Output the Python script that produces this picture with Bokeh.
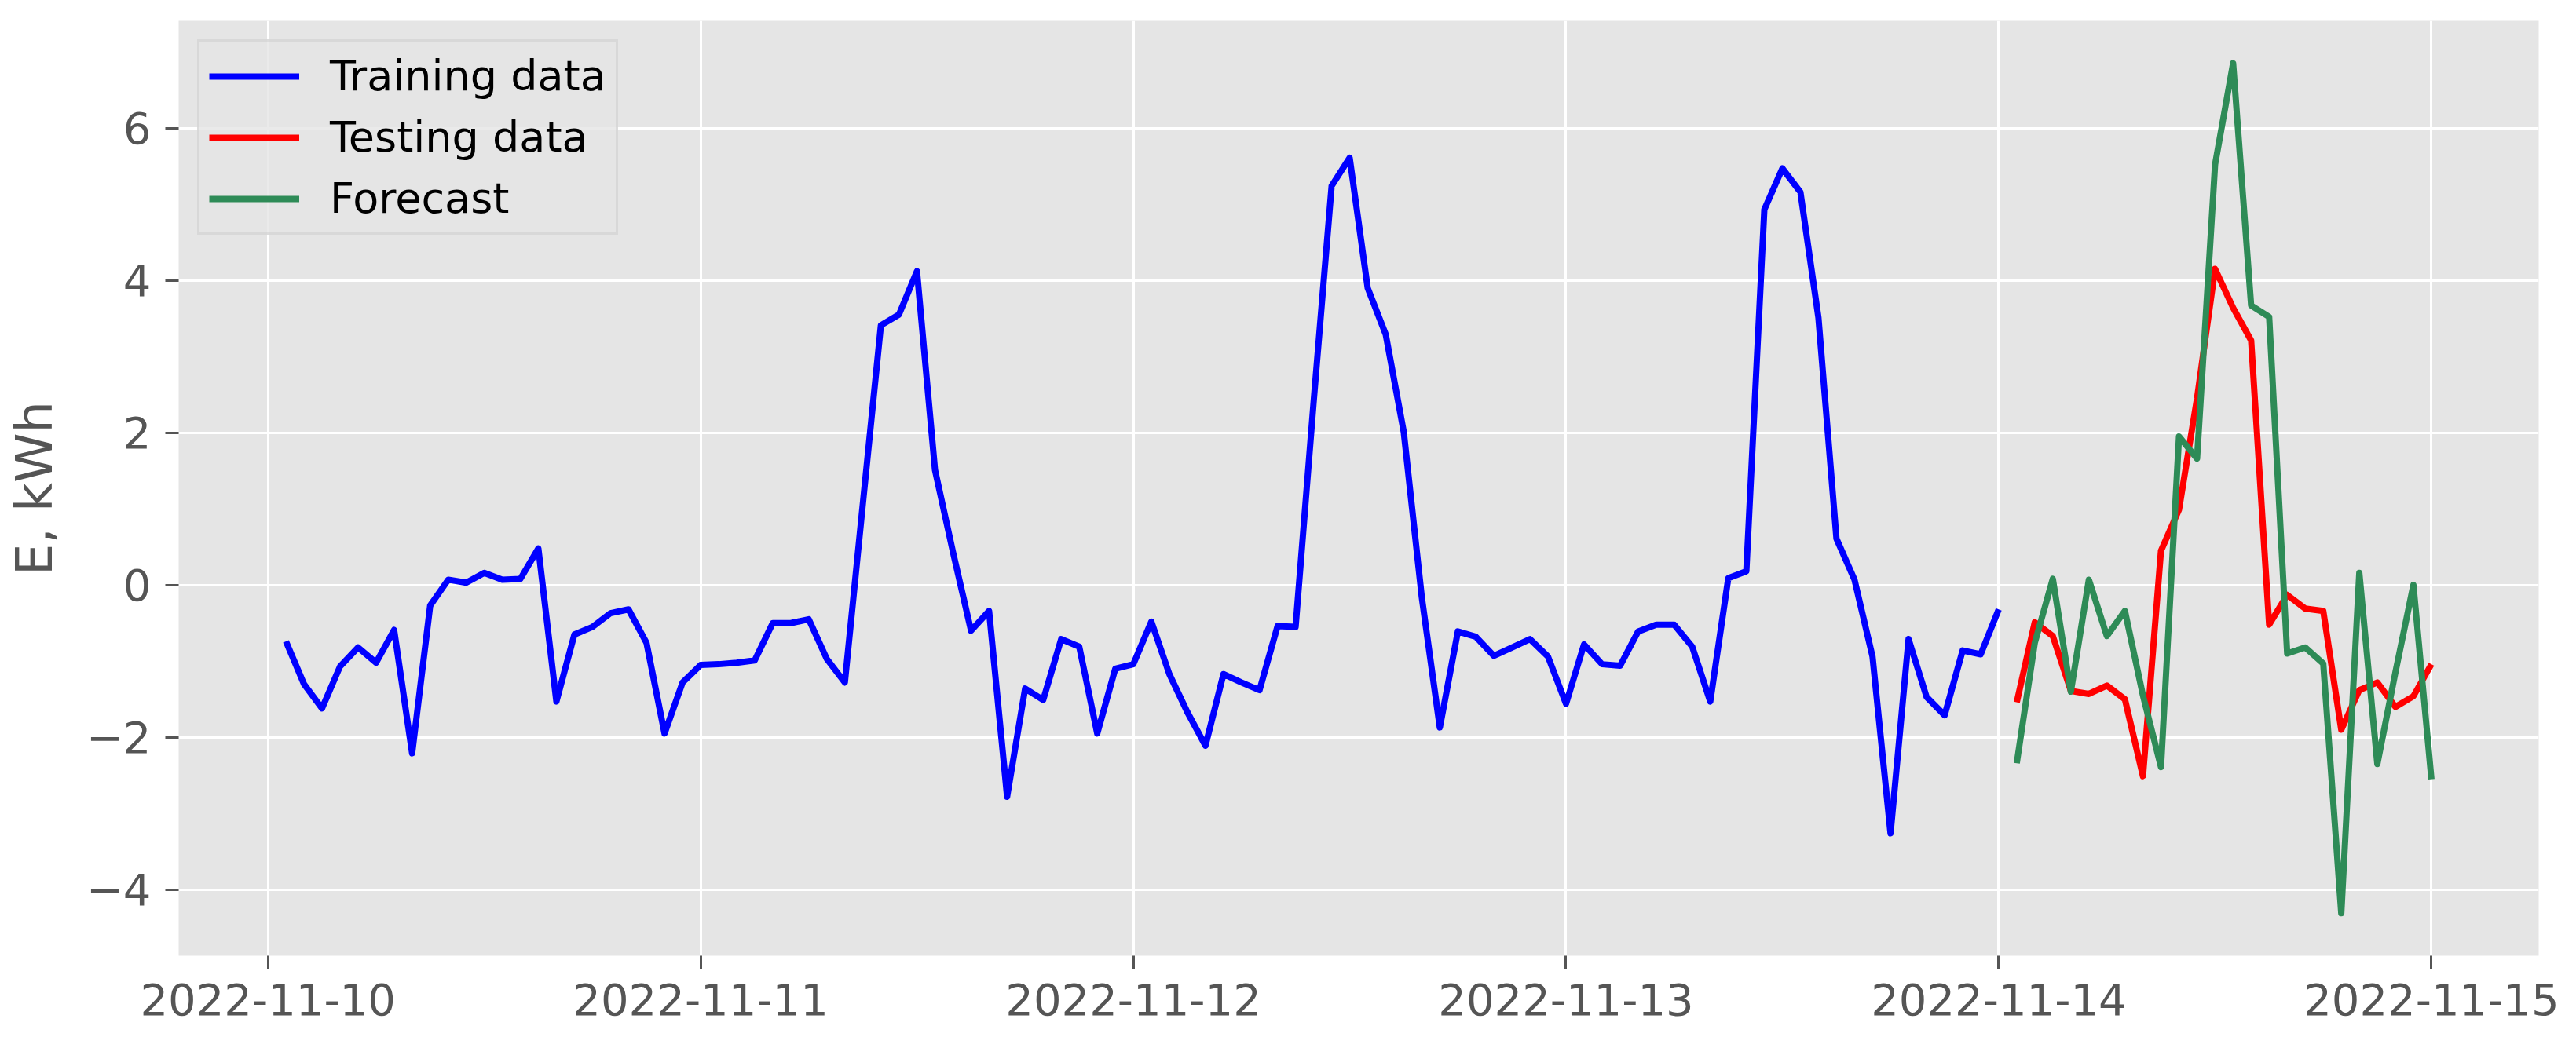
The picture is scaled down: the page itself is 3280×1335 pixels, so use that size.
import pandas as pd
from bokeh.plotting import figure
from bokeh.models import Range1d, DatetimeTickFormatter, FixedTicker, Legend, LegendItem
from bokeh.embed import file_html
from bokeh.resources import INLINE

# ---------------- data ----------------
train_start = "2022-11-10 01:00"
test_start = "2022-11-14 01:00"

training = [
    -0.74, -1.30, -1.62, -1.07, -0.82, -1.02, -0.59, -2.21, -0.27, 0.07, 0.03, 0.16,
    0.07, 0.08, 0.48, -1.53, -0.65, -0.55, -0.37, -0.32, -0.76, -1.95, -1.28, -1.05,
    -1.04, -1.02, -0.99, -0.50, -0.50, -0.45, -0.97, -1.28, 1.07, 3.41, 3.55, 4.12,
    1.51, 0.43, -0.60, -0.34, -2.78, -1.36, -1.51, -0.71, -0.81, -1.95, -1.10, -1.04,
    -0.48, -1.17, -1.67, -2.11, -1.17, -1.28, -1.38, -0.54, -0.55, 2.40, 5.24, 5.61,
    3.90, 3.29, 2.01, -0.16, -1.87, -0.61, -0.68, -0.93, -0.82, -0.71, -0.94, -1.56,
    -0.78, -1.04, -1.06, -0.61, -0.52, -0.52, -0.81, -1.53, 0.09, 0.18, 4.93, 5.47,
    5.16, 3.51, 0.61, 0.07, -0.94, -3.26, -0.71, -1.47, -1.71, -0.86, -0.91, -0.32,
]
testing = [
    -1.54, -0.49, -0.67, -1.39, -1.43, -1.32, -1.50, -2.51, 0.45, 0.99, 2.45, 4.15,
    3.64, 3.21, -0.52, -0.13, -0.31, -0.34, -1.90, -1.38, -1.28, -1.60, -1.46, -1.04,
]
forecast = [
    -2.34, -0.76, 0.08, -1.40, 0.07, -0.67, -0.34, -1.45, -2.39, 1.95, 1.66, 5.52,
    6.85, 3.67, 3.52, -0.90, -0.82, -1.03, -4.31, 0.16, -2.35, -1.15, 0.00, -2.55,
]
x_tick_dates = ["2022-11-10", "2022-11-11", "2022-11-12", "2022-11-13", "2022-11-14", "2022-11-15"]
y_ticks = [-4, -2, 0, 2, 4, 6]
y_tick_labels = ["\u22124", "\u22122", "0", "2", "4", "6"]
series_names = ["Training data", "Testing data", "Forecast"]
series_colors = ["#0000FF", "#FF0000", "#2E8B57"]

train_times = pd.date_range(train_start, periods=len(training), freq="h")
test_times = pd.date_range(test_start, periods=len(testing), freq="h")

def ms(t):
    return pd.Timestamp(t).value / 1e6

# ranges with matplotlib-like 5% margins
x0 = ms(train_times[0]); x1 = ms(test_times[-1])
xpad = 0.05 * (x1 - x0)
all_y = training + testing + forecast
y0 = min(all_y); y1 = max(all_y)
ypad = 0.05 * (y1 - y0)

FONT = "DejaVu Sans"
GREY = "#555555"

p = figure(width=3264, height=1319, x_axis_type="datetime",
           output_backend="svg", toolbar_location=None,
           x_range=Range1d(x0 - xpad, x1 + xpad),
           y_range=Range1d(y0 - ypad, y1 + ypad),
           min_border_left=227, min_border_right=32,
           min_border_top=26, min_border_bottom=102)

p.background_fill_color = "#E5E5E5"
p.border_fill_color = "white"
p.outline_line_color = None

r1 = p.line(train_times, training, line_color=series_colors[0], line_width=8, line_join="round")
r2 = p.line(test_times, testing, line_color=series_colors[1], line_width=8, line_join="round")
r3 = p.line(test_times, forecast, line_color=series_colors[2], line_width=8, line_join="round")

p.xaxis.ticker = FixedTicker(ticks=[ms(d) for d in x_tick_dates])
fmt = "%Y-%m-%d"
p.xaxis.formatter = DatetimeTickFormatter(
    milliseconds=fmt, seconds=fmt, minsec=fmt, minutes=fmt, hourmin=fmt,
    hours=fmt, days=fmt, months=fmt, years=fmt)
p.yaxis.ticker = FixedTicker(ticks=y_ticks)
p.yaxis.major_label_overrides = {t: l for t, l in zip(y_ticks, y_tick_labels)}
p.yaxis.axis_label = "E, kWh"

for ax in (p.xaxis, p.yaxis):
    ax.axis_line_color = None
    ax.major_tick_line_color = GREY
    ax.major_tick_line_width = 3
    ax.major_tick_out = 17
    ax.major_tick_in = 0
    ax.minor_tick_line_color = None
    ax.major_label_text_font = FONT
    ax.major_label_text_font_size = "56px"
    ax.major_label_text_color = GREY
    ax.major_label_standoff = 18
    ax.axis_label_text_font = FONT
    ax.axis_label_text_font_size = "64px"
    ax.axis_label_text_font_style = "normal"
    ax.axis_label_text_color = GREY
p.yaxis.axis_label_standoff = 26

p.xgrid.grid_line_color = "white"
p.ygrid.grid_line_color = "white"
p.xgrid.grid_line_width = 3
p.ygrid.grid_line_width = 3

legend = Legend(items=[LegendItem(label=series_names[0], renderers=[r1]),
                       LegendItem(label=series_names[1], renderers=[r2]),
                       LegendItem(label=series_names[2], renderers=[r3])],
                location="top_left", margin=24, padding=12, spacing=15,
                label_height=60, glyph_height=60, glyph_width=115,
                label_standoff=39, label_text_font=FONT,
                label_text_font_size="54px", label_text_color="black",
                background_fill_color="#E5E5E5", background_fill_alpha=0.8,
                border_line_color="#CCCCCC", border_line_width=3)
p.add_layout(legend)

open("out.html", "w").write(file_html(p, INLINE))
